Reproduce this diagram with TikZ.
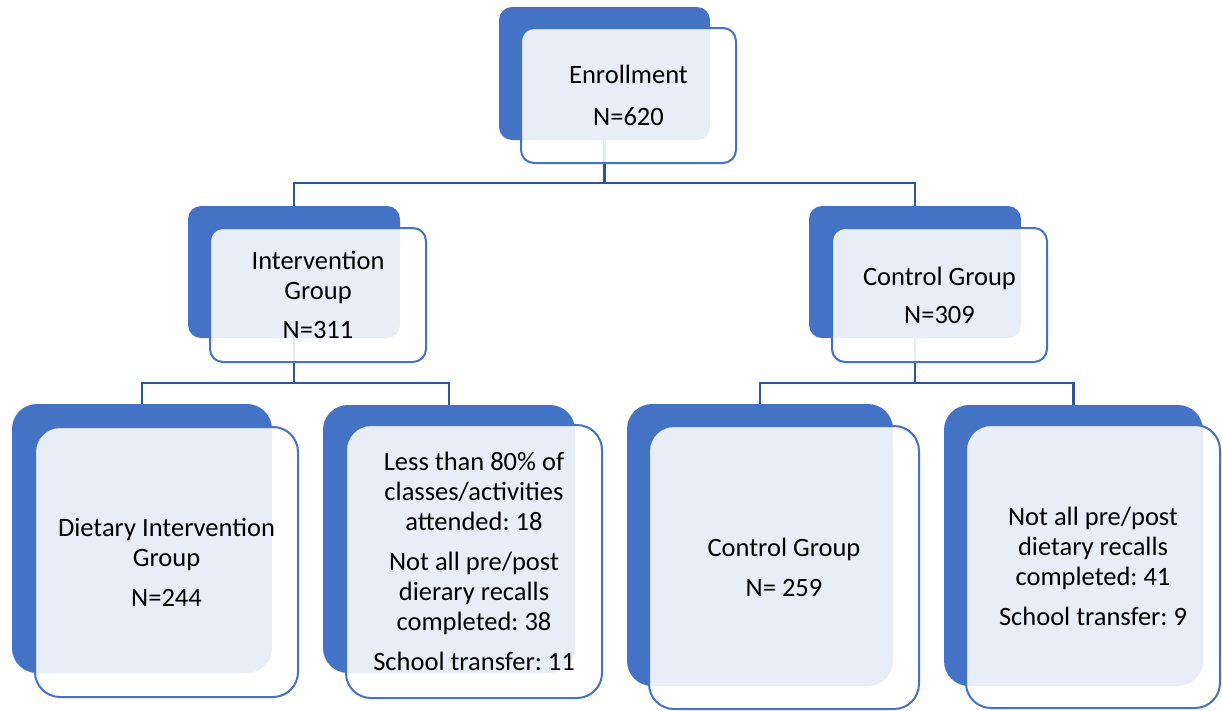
\documentclass[tikz,border=0pt]{standalone}
\usepackage{fontspec}
\setmainfont{Carlito}
\frenchspacing
\pgfdeclarelayer{bg}
\pgfsetlayers{bg,main}
\definecolor{acc}{HTML}{4472C4}
\definecolor{conn}{HTML}{2F5597}
\tikzset{
  backsm/.style={rectangle, fill=acc, draw=none, rounded corners=13pt, inner sep=0pt, outer sep=0pt},
  backlg/.style={rectangle, fill=acc, draw=none, rounded corners=25pt, inner sep=0pt, outer sep=0pt},
  frontbase/.style={rectangle, draw=acc, line width=2pt, fill=white, fill opacity=0.88, text opacity=1,
    align=center, inner sep=0pt, outer sep=0pt, text=black, font=\fontsize{26.5}{30}\selectfont\frenchspacing},
  frontsm/.style={frontbase, rounded corners=13pt},
  frontlg/.style={frontbase, rounded corners=25pt},
  conline/.style={draw=conn, line width=2.2pt}
}
\begin{document}
\begin{tikzpicture}[x=1pt,y=-1pt]
\useasboundingbox (0,0) rectangle (1222,710);
% Enrollment
\node[backsm, minimum width=211pt, minimum height=133pt] (enrB) at (604.5,73.5) {};
\node[frontsm, minimum width=215pt, minimum height=135pt] (enrF) at (628.5,95.5) {Enrollment\\[12pt]N=620};
% Intervention group
\node[backsm, minimum width=212pt, minimum height=132pt] (intB) at (294,272) {};
\node[frontsm, minimum width=216pt, minimum height=134pt] (intF) at (318,295) {Intervention\\Group\\[9pt]N=311};
% Control group
\node[backsm, minimum width=212pt, minimum height=132pt] (ctlB) at (915,272) {};
\node[frontsm, minimum width=215pt, minimum height=134pt] (ctlF) at (939.5,295) {Control Group\\[8pt]N=309};
% Dietary intervention group
\node[backlg, minimum width=260pt, minimum height=269pt] (dietB) at (142,538.5) {};
\node[frontlg, minimum width=263pt, minimum height=270pt] (dietF) at (166.5,562) {Dietary Intervention\\Group\\[10pt]N=244};
% Exclusions intervention
\node[backlg, minimum width=252pt, minimum height=268pt] (lessB) at (449,539) {};
\node[frontlg, minimum width=256pt, minimum height=273pt] (lessF) at (474,561.5) {Less than 80\% of\\classes/activities\\attended: 18\\[10pt]Not all pre/post\\dierary recalls\\completed: 38\\[10pt]School transfer: 11};
% Control group final
\node[backlg, minimum width=266pt, minimum height=282pt] (ctl2B) at (760,545) {};
\node[frontlg, minimum width=270pt, minimum height=283pt] (ctl2F) at (784,567.5) {Control Group\\[10pt]N= 259};
% Exclusions control
\node[backlg, minimum width=259pt, minimum height=281pt] (rightB) at (1073.5,545.5) {};
\node[frontlg, minimum width=254pt, minimum height=283pt] (rightF) at (1093,566.5) {Not all pre/post\\dietary recalls\\completed: 41\\[10pt]School transfer: 9};
% connectors
\begin{pgfonlayer}{bg}
\draw[conline] (enrB.south) -- ++(0,43) coordinate (j1);
\draw[conline] (j1) -| (intB.north);
\draw[conline] (j1) -| (ctlB.north);
\draw[conline] (intB.south) -- ++(0,45) coordinate (j2);
\draw[conline] (j2) -| (dietB.north);
\draw[conline] (j2) -| (lessB.north);
\draw[conline] (ctlB.south) -- ++(0,45) coordinate (j3);
\draw[conline] (j3) -| (ctl2B.north);
\draw[conline] (j3) -| (rightB.north);
\end{pgfonlayer}
\end{tikzpicture}
\end{document}
